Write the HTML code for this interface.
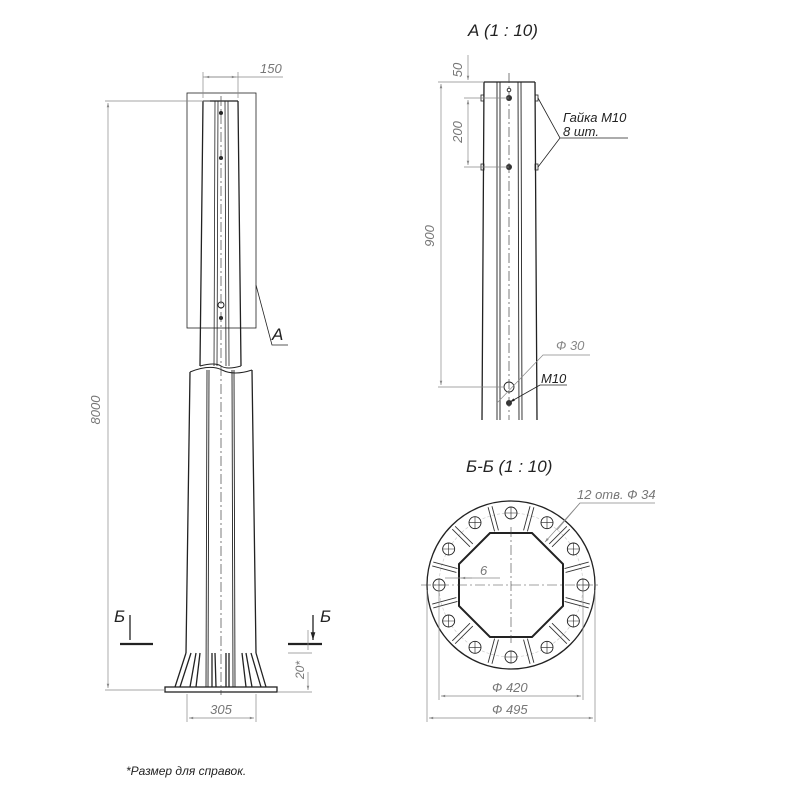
<!DOCTYPE html>
<html><head><meta charset="utf-8"><style>
html,body{margin:0;padding:0;background:#fff;}
svg{display:block;}
text{font-family:"Liberation Sans","DejaVu Sans",sans-serif;font-style:italic;}
</style></head><body>
<svg width="800" height="800" viewBox="0 0 800 800" xmlns="http://www.w3.org/2000/svg">
<defs>
<marker id="ar" viewBox="0 0 10 10" refX="10" refY="5" markerWidth="8" markerHeight="6" orient="auto-start-reverse"><path d="M0,2 L10,5 L0,8 z" fill="#888"/></marker>
<marker id="ab" viewBox="0 0 10 10" refX="10" refY="5" markerWidth="8" markerHeight="6" orient="auto-start-reverse"><path d="M0,2 L10,5 L0,8 z" fill="#222"/></marker>
</defs>
<g fill="none" stroke="#222" stroke-width="1.3">
<path d="M203,101 L200,366 M238,101 L241,366 M203,101 L238,101"/>
<path d="M200,366 Q215,362 221,366 T241,366" stroke-width="1"/>
<path d="M215,101 L214,366 M218,101 L217,366 M225,101 L226,366 M228,101 L229,366" stroke-width="0.8"/>
<rect x="187" y="93" width="69" height="235" stroke-width="0.8"/>
<path d="M256,285 L272,345 L288,345" stroke-width="0.8"/>
<path d="M190,372 Q210,364 222,370 T252,370" stroke-width="1"/>
<path d="M190,372 L186,653 M252,370 L256,653"/>
<path d="M207,370 L206,687 M209,370 L208,687 M232,370 L233,687 M234,370 L235,687" stroke-width="0.9"/>
<path d="M186,653 L175,687 M191,653 L180,687 M256,653 L266,687 M251,653 L261,687 M196,653 L190,687 M200,653 L196,687 M246,653 L252,687 M242,653 L246,687 M212,653 L212,687 M215,653 L216,687 M229,653 L229,687 M226,653 L226,687"/>
<rect x="165" y="687" width="112" height="5"/>
<path d="M120,644 L153,644 M288,644 L322,644" stroke-width="2.2"/>
<path d="M130,615 L130,640 M313,615 L313,640" marker-end="url(#ab)"/>
</g>
<g fill="#222"><circle cx="221" cy="113" r="2"/><circle cx="221" cy="158" r="2"/><circle cx="221" cy="318" r="2"/></g>
<circle cx="221" cy="305" r="3" fill="none" stroke="#222"/>
<path d="M221,96 V695" stroke="#444" stroke-width="0.7" stroke-dasharray="10,3,2,3"/>
<g stroke="#888" stroke-width="0.7" fill="none">
<path d="M203,98 V72 M238,98 V72 M203,77 H283" />
<path d="M205,77 H236" marker-start="url(#ar)" marker-end="url(#ar)"/>
<path d="M105,101 H210 M105,690 H165"/>
<path d="M108,103 V688" marker-start="url(#ar)" marker-end="url(#ar)"/>
<path d="M187,694 V722 M256,694 V722"/>
<path d="M189,718 H254" marker-start="url(#ar)" marker-end="url(#ar)"/>
<path d="M288,653 H312 M278,692 H312 M308,630 V650" />
<path d="M308,672 V690" marker-end="url(#ar)"/>
</g>
<g fill="#777" font-size="13">
<text x="260" y="73">150</text>
<text x="100" y="410" transform="rotate(-90 100 410)" text-anchor="middle">8000</text>
<text x="221" y="714" text-anchor="middle">305</text>
<text x="304" y="670" transform="rotate(-90 304 670)" text-anchor="middle" font-size="12">20*</text>
</g>
<g fill="#222" font-size="17">
<text x="272" y="340">А</text>
<text x="114" y="622">Б</text>
<text x="320" y="622">Б</text>
<text x="468" y="36">А (1 : 10)</text>
<text x="466" y="472">Б-Б (1 : 10)</text>
</g>
<text x="126" y="775" font-size="12" fill="#222">*Размер для справок.</text>
<g fill="none" stroke="#222" stroke-width="1.3">
<path d="M484,82 L482,420 M535,82 L537,420 M484,82 H535"/>
<path d="M497,82 L497,420 M500,82 L500,420 M518,82 L519,420 M521,82 L522,420" stroke-width="0.9"/>
<rect x="481" y="95" width="3" height="6" stroke-width="0.8"/><rect x="535" y="95" width="3" height="6" stroke-width="0.8"/>
<rect x="481" y="164" width="3" height="6" stroke-width="0.8"/><rect x="535" y="164" width="3" height="6" stroke-width="0.8"/>
<circle cx="509" cy="387" r="5" stroke-width="0.9"/>
</g>
<g fill="#333"><circle cx="509" cy="98" r="3"/><circle cx="509" cy="167" r="3"/><circle cx="509" cy="403" r="3"/></g>
<circle cx="509" cy="90" r="1.8" fill="none" stroke="#333"/>
<path d="M509,73 V420" stroke="#444" stroke-width="0.7" stroke-dasharray="10,3,2,3"/>
<g stroke="#888" stroke-width="0.7" fill="none">
<path d="M438,82 H484 M438,387 H504 M464,98 H509 M464,167 H509"/>
<path d="M441,84 V385" marker-start="url(#ar)" marker-end="url(#ar)"/>
<path d="M468,55 V80" marker-end="url(#ar)"/>
<path d="M468,100 V165" marker-start="url(#ar)" marker-end="url(#ar)"/>
<path d="M497,403 L543,355 H590"/>
</g>
<g stroke="#222" stroke-width="0.8" fill="none">
<path d="M538,98 L560,138 L538,167 M560,138 H628"/>
<path d="M540,385 L510,402" marker-end="url(#ab)"/>
<path d="M540,385 H567"/>
</g>
<g font-size="13">
<text x="462" y="70" transform="rotate(-90 462 70)" text-anchor="middle" fill="#777">50</text>
<text x="462" y="132" transform="rotate(-90 462 132)" text-anchor="middle" fill="#777">200</text>
<text x="434" y="236" transform="rotate(-90 434 236)" text-anchor="middle" fill="#777">900</text>
<text x="563" y="122" fill="#222">Гайка М10</text>
<text x="563" y="136" fill="#222">8 шт.</text>
<text x="556" y="350" fill="#888">Ф 30</text>
<text x="541" y="383" fill="#222">М10</text>
</g>
<g transform="translate(511,585)">
<circle r="84" fill="none" stroke="#222" stroke-width="1.3"/>
<circle r="72" fill="none" stroke="#ccc" stroke-width="0.7" stroke-dasharray="3,2"/>
<path d="M-21,-52 L21,-52 L52,-21 L52,21 L21,52 L-21,52 L-52,21 L-52,-21 Z" fill="none" stroke="#222" stroke-width="2"/>
<g stroke="#333" stroke-width="0.9" fill="none">
<g id="rb"><path d="M-2,-56 V-81 M2,-56 V-81" transform="rotate(15)"/></g>
<use href="#rb" transform="rotate(30)"/><use href="#rb" transform="rotate(60)"/><use href="#rb" transform="rotate(90)"/>
<use href="#rb" transform="rotate(120)"/><use href="#rb" transform="rotate(150)"/><use href="#rb" transform="rotate(180)"/>
<use href="#rb" transform="rotate(210)"/><use href="#rb" transform="rotate(240)"/><use href="#rb" transform="rotate(270)"/>
<use href="#rb" transform="rotate(300)"/><use href="#rb" transform="rotate(330)"/>
</g>
<g fill="#fff" stroke="#222" stroke-width="0.9">
<circle cx="0" cy="-72" r="6"/><circle cx="36" cy="-62.35" r="6"/><circle cx="62.35" cy="-36" r="6"/>
<circle cx="72" cy="0" r="6"/><circle cx="62.35" cy="36" r="6"/><circle cx="36" cy="62.35" r="6"/>
<circle cx="0" cy="72" r="6"/><circle cx="-36" cy="62.35" r="6"/><circle cx="-62.35" cy="36" r="6"/>
<circle cx="-72" cy="0" r="6"/><circle cx="-62.35" cy="-36" r="6"/><circle cx="-36" cy="-62.35" r="6"/>
</g>
<g stroke="#222" stroke-width="0.6" fill="none">
<path d="M-6,-72h12M0,-78v12 M30,-62.35h12M36,-68.35v12 M56.35,-36h12M62.35,-42v12 M66,0h12M72,-6v12 M56.35,36h12M62.35,30v12 M30,62.35h12M36,56.35v12 M-6,72h12M0,66v12 M-42,62.35h12M-36,56.35v12 M-68.35,36h12M-62.35,30v12 M-78,0h12M-72,-6v12 M-68.35,-36h12M-62.35,-42v12 M-42,-62.35h12M-36,-68.35v12"/>
</g>
<path d="M-90,0 H90 M0,-58 V58" stroke="#444" stroke-width="0.6" stroke-dasharray="10,3,2,3"/>
</g>
<g stroke="#888" stroke-width="0.7" fill="none">
<path d="M557,530 L580,503 H655"/>
<path d="M580,503 L545,542" marker-end="url(#ar)"/>
<path d="M439,590 V700 M583,590 V700 M427,590 V722 M595,590 V722"/>
<path d="M441,696 H581" marker-start="url(#ar)" marker-end="url(#ar)"/>
<path d="M429,718 H593" marker-start="url(#ar)" marker-end="url(#ar)"/>
<path d="M445,578 H500"/>
<path d="M472,578 H461" marker-end="url(#ar)"/>
</g>
<g font-size="13" fill="#777">
<text x="577" y="499">12 отв. Ф 34</text>
<text x="480" y="575">6</text>
<text x="492" y="692">Ф 420</text>
<text x="492" y="714">Ф 495</text>
</g>
</svg>
</body></html>
